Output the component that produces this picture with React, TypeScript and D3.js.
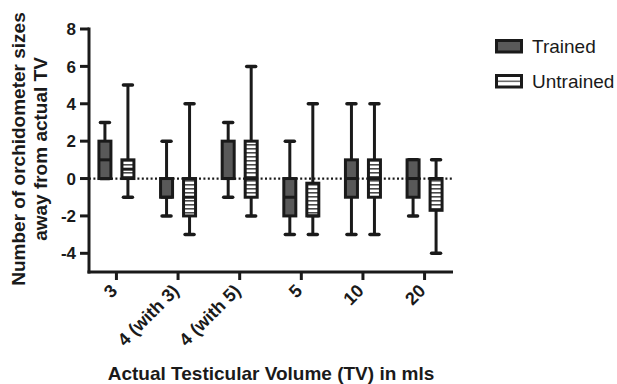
import React from "react";
import * as d3 from "d3";

const categories = ["3", "4 (with 3)", "4 (with 5)", "5", "10", "20"];
const trainedMin = [0, -2, -1, -3, -3, -2];
const trainedQ1 = [0, -1, 0, -2, -1, -1];
const trainedMedian = [1, -1, 0, -1, 0, 0];
const trainedQ3 = [2, 0, 2, 0, 1, 1];
const trainedMax = [3, 2, 3, 2, 4, 1];

const untrainedMin = [-1, -3, -2, -3, -3, -4];
const untrainedQ1 = [0, -2, -1, -2, -1, -1.7];
const untrainedMedian = [0.5, -1, 0, -2, 0, 0];
const untrainedQ3 = [1, 0, 2, -0.25, 1, 0];
const untrainedMax = [5, 4, 6, 4, 4, 1];

const yTicks = [-4, -2, 0, 2, 4, 6, 8];
const seriesNames = ["Trained", "Untrained"];

const W = 617;
const H = 384;
const FONT = "'Liberation Sans', Arial, Helvetica, sans-serif";
const INK = "#1a1a1a";
const DARK_FILL = "#595959";

export default function App() {
  const x = d3.scalePoint<string>().domain(categories).range([89, 452]).padding(0.445);
  const y = d3.scaleLinear().domain([-5, 8]).range([272, 29]);

  const series = [
    { name: seriesNames[0], min: trainedMin, q1: trainedQ1, med: trainedMedian, q3: trainedQ3, max: trainedMax, off: -11.5, fill: DARK_FILL },
    { name: seriesNames[1], min: untrainedMin, q1: untrainedQ1, med: untrainedMedian, q3: untrainedQ3, max: untrainedMax, off: 11.5, fill: "url(#stripes)" },
  ];
  const bw = 12;
  const capW = 9;

  return (
    <svg width={W} height={H} style={{ position: "absolute", left: 0, top: 0, background: "#fff" }} fontFamily={FONT}>
      <defs>
        <pattern id="stripes" patternUnits="userSpaceOnUse" width="8" height="4">
          <rect x="0" y="0" width="8" height="4" fill="#ffffff" />
          <rect x="0" y="0" width="8" height="1.6" fill="#4a4a4a" />
        </pattern>
      </defs>

      {/* zero line */}
      <line x1={89} x2={452} y1={y(0)} y2={y(0)} stroke={INK} strokeWidth={2.2} strokeDasharray="2,2.4" />

      {/* boxes */}
      {series.map((s) =>
        categories.map((c, i) => {
          const cx = (x(c) as number) + s.off;
          return (
            <g key={s.name + c}>
              <line x1={cx} x2={cx} y1={y(s.min[i])} y2={y(s.max[i])} stroke={INK} strokeWidth={3} />
              <line x1={cx - capW / 2} x2={cx + capW / 2} y1={y(s.min[i])} y2={y(s.min[i])} stroke={INK} strokeWidth={3.5} strokeLinecap="round" />
              <line x1={cx - capW / 2} x2={cx + capW / 2} y1={y(s.max[i])} y2={y(s.max[i])} stroke={INK} strokeWidth={3.5} strokeLinecap="round" />
              <rect x={cx - bw / 2} y={y(s.q3[i])} width={bw} height={y(s.q1[i]) - y(s.q3[i])} fill={s.fill} stroke={INK} strokeWidth={3} />
              <line x1={cx - bw / 2} x2={cx + bw / 2} y1={y(s.med[i])} y2={y(s.med[i])} stroke={INK} strokeWidth={3} />
            </g>
          );
        })
      )}

      {/* axes */}
      <line x1={89} x2={89} y1={27.5} y2={273.5} stroke={INK} strokeWidth={3} />
      <line x1={87.5} x2={453} y1={272} y2={272} stroke={INK} strokeWidth={3} />
      {yTicks.map((t) => (
        <g key={t}>
          <line x1={80} x2={89} y1={y(t)} y2={y(t)} stroke={INK} strokeWidth={3} />
          <text x={76} y={y(t)} dy="0.36em" textAnchor="end" fontSize={17} fontWeight="bold" fill={INK}>
            {t}
          </text>
        </g>
      ))}
      {categories.map((c) => {
        const tx = x(c) as number;
        return (
          <g key={c}>
            <line x1={tx} x2={tx} y1={272} y2={280} stroke={INK} strokeWidth={3} />
            <text transform={`translate(${tx + 2},${292}) rotate(-45)`} textAnchor="end" fontSize={18} fontWeight="bold" fill={INK}>
              {c}
            </text>
          </g>
        );
      })}

      {/* axis titles */}
      <text x={271} y={380} textAnchor="middle" fontSize={19} fontWeight="bold" fill={INK}>
        Actual Testicular Volume (TV) in mls
      </text>
      <text transform="translate(25,149) rotate(-90)" textAnchor="middle" fontSize={19} fontWeight="bold" fill={INK}>
        Number of orchidometer sizes
      </text>
      <text transform="translate(47,149) rotate(-90)" textAnchor="middle" fontSize={19} fontWeight="bold" fill={INK}>
        away from actual TV
      </text>

      {/* legend */}
      <rect x={496.5} y={40.5} width={25} height={11.5} fill={DARK_FILL} stroke={INK} strokeWidth={3} />
      <text x={532} y={53} fontSize={19} fill={INK}>
        {seriesNames[0]}
      </text>
      <rect x={496.5} y={75.5} width={25} height={11.5} fill="#fff" stroke={INK} strokeWidth={3} />
      <rect x={498} y={80.5} width={22} height={1.6} fill="#6a6a6a" />
      <text x={532} y={88} fontSize={19} fill={INK}>
        {seriesNames[1]}
      </text>
    </svg>
  );
}
